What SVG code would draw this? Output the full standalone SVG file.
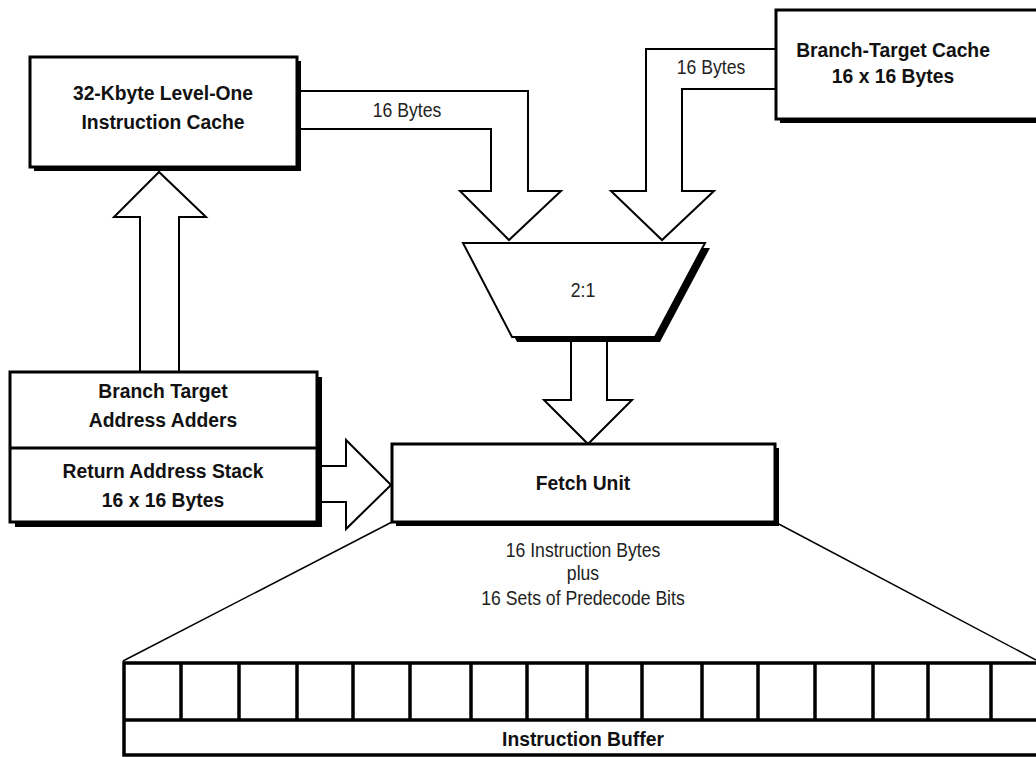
<svg xmlns="http://www.w3.org/2000/svg" width="1036" height="757" viewBox="0 0 1036 757">
<style>
.box{fill:#fff;stroke:#000;stroke-width:3}
.sh{fill:#000}
.arr{fill:#fff;stroke:#000;stroke-width:2;stroke-linejoin:miter}
.thin{fill:none;stroke:#000;stroke-width:1.5}
.b{font-family:"Liberation Sans",Arial,sans-serif;font-weight:bold;font-size:21px;fill:#111;text-anchor:middle}
.r{font-family:"Liberation Sans",Arial,sans-serif;font-size:20px;fill:#222;text-anchor:middle}
.buf{fill:none;stroke:#000;stroke-width:3.5}
</style>
<rect width="1036" height="757" fill="#fff"/>
<g id="connectors">
<path class="arr" d="M300,91 H528 V191 H561 L509,240 L460,191 H491 V129 H300"/>
<path class="arr" d="M776,49 H646 V191 H611 L662,240 L714,191 H682 V89 H776"/>
<path class="arr" d="M140,372 V217 H114 L159,172 L206,217 H179 V372"/>
<path class="arr" d="M317,466 H346 V440 L391,485 L346,529 V502 H317"/>
<path class="arr" d="M571,337 V400 H544 L588,444 L632,400 H607 V337"/>
<line class="thin" x1="392" y1="522" x2="123" y2="661"/>
<line class="thin" x1="775" y1="522" x2="1036" y2="660"/>
<text class="r" transform="translate(407,117) scale(0.88,1)">16 Bytes</text>
<text class="r" transform="translate(711,74) scale(0.88,1)">16 Bytes</text>
</g>
<g id="icache">
<rect class="sh" x="34" y="61" width="267" height="110"/>
<rect class="box" x="30" y="57" width="267" height="110"/>
<text class="b" transform="translate(163,100) scale(0.92,1)">32-Kbyte Level-One</text>
<text class="b" transform="translate(163,129) scale(0.92,1)">Instruction Cache</text>
</g>
<g id="btc">
<rect class="sh" x="780" y="14" width="270" height="109"/>
<rect class="box" x="776" y="10" width="270" height="109"/>
<text class="b" transform="translate(893,57) scale(0.92,1)">Branch-Target Cache</text>
<text class="b" transform="translate(893,83) scale(0.92,1)">16 x 16 Bytes</text>
</g>
<g id="mux">
<polygon class="sh" points="468,248 710,248 660,342 517,342"/>
<polygon class="box" points="463,243 705,243 655,337 512,337" style="stroke-width:2"/>
<text class="r" transform="translate(583,297) scale(0.88,1)">2:1</text>
</g>
<g id="btaa">
<rect class="sh" x="15" y="377" width="307" height="150"/>
<rect class="box" x="10" y="372" width="307" height="150"/>
<line x1="10" y1="448" x2="317" y2="448" stroke="#000" stroke-width="3"/>
<text class="b" transform="translate(163,398) scale(0.92,1)">Branch Target</text>
<text class="b" transform="translate(163,427) scale(0.92,1)">Address Adders</text>
<text class="b" transform="translate(163,478) scale(0.92,1)">Return Address Stack</text>
<text class="b" transform="translate(163,507) scale(0.92,1)">16 x 16 Bytes</text>
</g>
<g id="fetch">
<rect class="sh" x="396" y="448" width="383" height="78"/>
<rect class="box" x="392" y="444" width="383" height="78"/>
<text class="b" transform="translate(583,490) scale(0.92,1)">Fetch Unit</text>
</g>
<g id="fetch-label">
<text class="r" transform="translate(583,557) scale(0.88,1)">16 Instruction Bytes</text>
<text class="r" transform="translate(583,580) scale(0.88,1)">plus</text>
<text class="r" transform="translate(583,605) scale(0.88,1)">16 Sets of Predecode Bits</text>
</g>
<g id="ibuf">
<rect class="buf" x="124" y="663" width="930" height="92"/>
<line class="buf" x1="124" y1="720" x2="1040" y2="720"/>
<path class="buf" d="M181,663V720 M239,663V720 M297,663V720 M353,663V720 M410,663V720 M471,663V720 M527,663V720 M587,663V720 M642,663V720 M702,663V720 M758,663V720 M815,663V720 M873,663V720 M928,663V720 M991,663V720"/>
<text class="b" transform="translate(583,746) scale(0.92,1)">Instruction Buffer</text>
</g>
</svg>
